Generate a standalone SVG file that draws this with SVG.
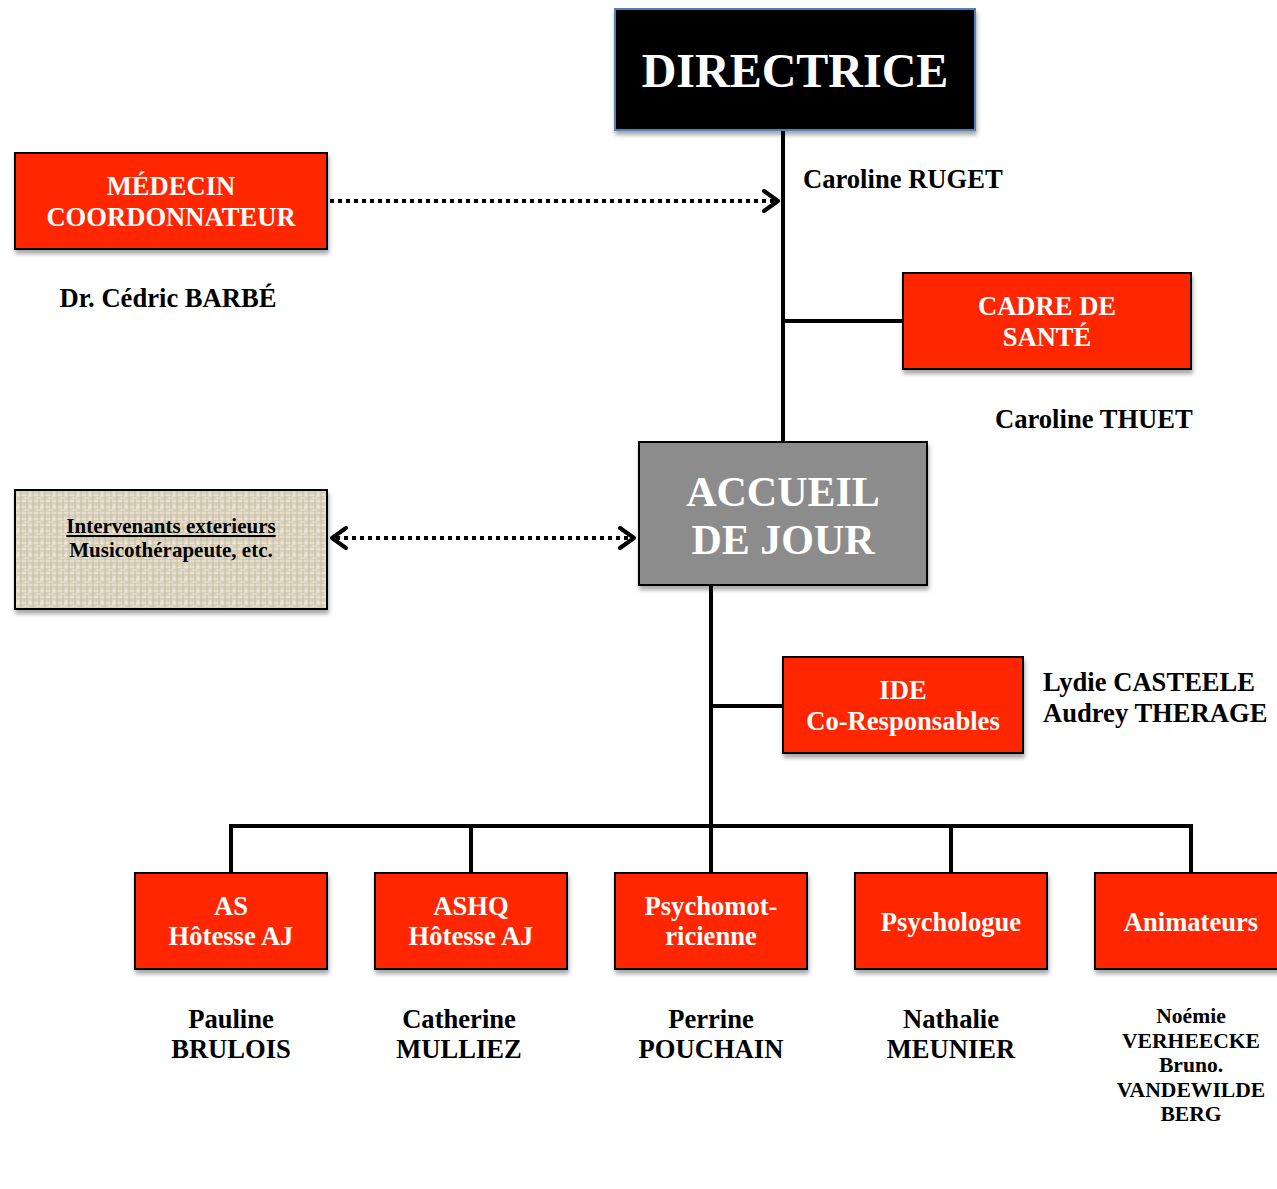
<svg xmlns="http://www.w3.org/2000/svg" width="1277" height="1189" viewBox="0 0 1277 1189">
<defs>
<style>
.box{fill:#ff2600;stroke:#000;stroke-width:2;filter:url(#sh)}
.bt{font-family:"Liberation Serif","Times New Roman",serif;font-weight:bold;fill:#fff;text-anchor:middle;font-size:26.6px}
.nm{font-family:"Liberation Serif","Times New Roman",serif;font-weight:bold;fill:#000;font-size:26.6px}
.c{text-anchor:middle}
.ln{stroke:#000;stroke-width:4;fill:none}
.dot{stroke:#000;stroke-width:4;stroke-dasharray:4 4;fill:none}
.ah{stroke:#000;stroke-width:4;fill:none;stroke-linecap:round;stroke-linejoin:round}
</style>
<filter id="sh" x="-10%" y="-10%" width="130%" height="130%">
<feGaussianBlur in="SourceAlpha" stdDeviation="2"/>
<feOffset dx="1" dy="4" result="o"/>
<feComponentTransfer><feFuncA type="linear" slope="0.35"/></feComponentTransfer>
<feMerge><feMergeNode/><feMergeNode in="SourceGraphic"/></feMerge>
</filter>
<pattern id="tex" width="12" height="12" patternUnits="userSpaceOnUse">
<rect width="12" height="12" fill="#d9d0ba"/>
<path d="M0 3H12M0 9H12" stroke="#ece6d6" stroke-width="1.5"/>
<path d="M3 0V12M9 0V12" stroke="#c6bca2" stroke-width="1"/>
<path d="M6 0V5M0 6H5" stroke="#f2ede2" stroke-width="1"/>
</pattern>
</defs>
<rect width="1277" height="1189" fill="#fff"/>

<g id="connectors">
<line class="ln" x1="783" y1="130" x2="783" y2="442"/>
<line class="ln" x1="783" y1="321" x2="903" y2="321"/>
<line class="dot" x1="330" y1="201" x2="776" y2="201"/>
<polyline class="ah" points="764,191 778,201 764,211"/>
<line class="dot" x1="336" y1="538" x2="630" y2="538"/>
<polyline class="ah" points="346,528 332,538 346,548"/>
<polyline class="ah" points="620,528 634,538 620,548"/>
<line class="ln" x1="711" y1="585" x2="711" y2="828"/>
<line class="ln" x1="711" y1="706" x2="783" y2="706"/>
<line class="ln" x1="229" y1="826" x2="1193" y2="826"/>
<line class="ln" x1="231" y1="824" x2="231" y2="873"/>
<line class="ln" x1="471" y1="824" x2="471" y2="873"/>
<line class="ln" x1="711" y1="824" x2="711" y2="873"/>
<line class="ln" x1="951" y1="824" x2="951" y2="873"/>
<line class="ln" x1="1191" y1="824" x2="1191" y2="873"/>
</g>

<g id="directrice">
<rect x="615" y="9" width="360" height="121" fill="#000" stroke="#4f81bd" stroke-width="2" filter="url(#sh)"/>
<text class="bt" x="795" y="87" style="font-size:48px">DIRECTRICE</text>
<text class="nm" x="803" y="188">Caroline RUGET</text>
</g>

<g id="medecin">
<rect class="box" x="15" y="153" width="312" height="96"/>
<text class="bt" x="171" y="195">MÉDECIN</text>
<text class="bt" x="171" y="226">COORDONNATEUR</text>
<text class="nm c" x="168" y="307">Dr. Cédric BARBÉ</text>
</g>

<g id="cadre">
<rect class="box" x="903" y="273" width="288" height="96"/>
<text class="bt" x="1047" y="315">CADRE DE</text>
<text class="bt" x="1047" y="346">SANTÉ</text>
<text class="nm" x="995" y="428">Caroline THUET</text>
</g>

<g id="accueil">
<rect x="639" y="442" width="288" height="143" fill="#8c8c8c" stroke="#000" stroke-width="2" filter="url(#sh)"/>
<text class="bt" x="783" y="506" style="font-size:42px">ACCUEIL</text>
<text class="bt" x="783" y="554" style="font-size:42px">DE JOUR</text>
</g>

<g id="intervenants">
<rect x="15" y="490" width="312" height="119" fill="url(#tex)" stroke="#000" stroke-width="2" filter="url(#sh)"/>
<text class="nm c" x="171" y="533" style="font-size:21px;text-decoration:underline">Intervenants exterieurs</text>
<text class="nm c" x="171" y="557" style="font-size:21px">Musicothérapeute, etc.</text>
</g>

<g id="ide">
<rect class="box" x="783" y="657" width="240" height="96"/>
<text class="bt" x="903" y="699">IDE</text>
<text class="bt" x="903" y="730">Co-Responsables</text>
<text class="nm" x="1043" y="691">Lydie CASTEELE</text>
<text class="nm" x="1043" y="722">Audrey THERAGE</text>
</g>

<g id="as">
<rect class="box" x="135" y="873" width="192" height="96"/>
<text class="bt" x="231" y="915">AS</text>
<text class="bt" x="231" y="945">Hôtesse AJ</text>
<text class="nm c" x="231" y="1028">Pauline</text>
<text class="nm c" x="231" y="1058">BRULOIS</text>
</g>

<g id="ashq">
<rect class="box" x="375" y="873" width="192" height="96"/>
<text class="bt" x="471" y="915">ASHQ</text>
<text class="bt" x="471" y="945">Hôtesse AJ</text>
<text class="nm c" x="459" y="1028">Catherine</text>
<text class="nm c" x="459" y="1058">MULLIEZ</text>
</g>

<g id="psychomot">
<rect class="box" x="615" y="873" width="192" height="96"/>
<text class="bt" x="711" y="915">Psychomot-</text>
<text class="bt" x="711" y="945">ricienne</text>
<text class="nm c" x="711" y="1028">Perrine</text>
<text class="nm c" x="711" y="1058">POUCHAIN</text>
</g>

<g id="psychologue">
<rect class="box" x="855" y="873" width="192" height="96"/>
<text class="bt" x="951" y="931">Psychologue</text>
<text class="nm c" x="951" y="1028">Nathalie</text>
<text class="nm c" x="951" y="1058">MEUNIER</text>
</g>

<g id="animateurs">
<rect class="box" x="1095" y="873" width="192" height="96"/>
<text class="bt" x="1191" y="931">Animateurs</text>
<text class="nm c" x="1191" y="1023" style="font-size:21.6px">Noémie</text>
<text class="nm c" x="1191" y="1048" style="font-size:21.6px">VERHEECKE</text>
<text class="nm c" x="1191" y="1072" style="font-size:21.6px">Bruno.</text>
<text class="nm c" x="1191" y="1097" style="font-size:21.6px">VANDEWILDE</text>
<text class="nm c" x="1191" y="1121" style="font-size:21.6px">BERG</text>
</g>
</svg>
